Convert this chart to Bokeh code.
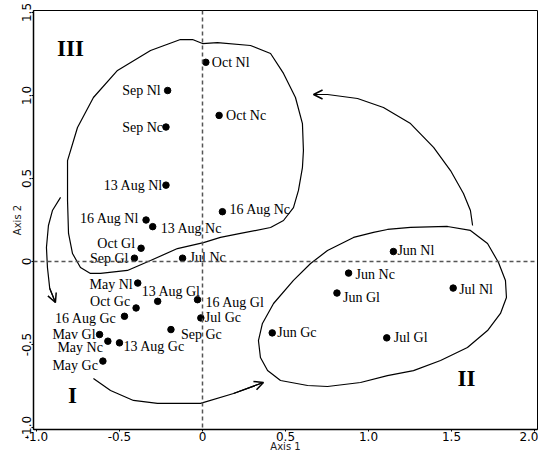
from bokeh.plotting import figure
from bokeh.models import Range1d, FixedTicker, Span, Arrow, OpenHead, ColumnDataSource
from bokeh.core.properties import value
from bokeh.embed import file_html
from bokeh.resources import INLINE

# ---- data ----
names = ["Oct Nl", "Sep Nl", "Sep Nc", "Oct Nc", "13 Aug Nl", "16 Aug Nl", "13 Aug Nc",
         "16 Aug Nc", "Oct Gl", "Sep Gl", "Jul Nc", "May Nl", "13 Aug Gl", "16 Aug Gl",
         "Oct Gc", "16 Aug Gc", "Jul Gc", "Sep Gc", "Mav Gl", "May Nc", "13 Aug Gc",
         "May Gc", "Jun Nl", "Jun Nc", "Jun Gl", "Jul Nl", "Jun Gc", "Jul Gl"]
axis1 = [0.02, -0.21, -0.22, 0.10, -0.22, -0.34, -0.30,
         0.12, -0.37, -0.41, -0.12, -0.39, -0.27, -0.03,
         -0.40, -0.47, -0.01, -0.19, -0.62, -0.57, -0.50,
         -0.60, 1.15, 0.88, 0.81, 1.51, 0.42, 1.11]
axis2 = [1.20, 1.03, 0.81, 0.88, 0.46, 0.25, 0.21,
         0.30, 0.08, 0.02, 0.02, -0.13, -0.24, -0.23,
         -0.28, -0.33, -0.34, -0.41, -0.44, -0.48, -0.49,
         -0.60, 0.06, -0.07, -0.19, -0.16, -0.43, -0.46]

# group outlines and arrows (axis units)
g3_x = [-0.813, -0.753, -0.657, -0.512, -0.313, -0.133, -0.060, 0.0, 0.090, 0.289, 0.410,
        0.488, 0.560, 0.602, 0.608, 0.602, 0.578, 0.548, 0.488, 0.410, 0.229, 0.108, 0.006,
        -0.151, -0.313, -0.452, -0.614, -0.675, -0.735, -0.783, -0.807, -0.813, -0.813]
g3_y = [0.608, 0.807, 0.988, 1.151, 1.271, 1.337, 1.337, 1.313, 1.319, 1.301, 1.253,
        1.133, 0.988, 0.831, 0.669, 0.566, 0.428, 0.325, 0.247, 0.205, 0.169, 0.145, 0.114,
        0.078, 0.006, -0.054, -0.072, -0.072, -0.036, 0.048, 0.169, 0.367, 0.608]
g2_x = [1.114, 1.253, 1.476, 1.614, 1.717, 1.783, 1.825, 1.831, 1.795, 1.717, 1.596, 1.434,
        1.271, 1.114, 0.952, 0.753, 0.633, 0.470, 0.392, 0.349, 0.337, 0.361, 0.428, 0.548,
        0.651, 0.753, 0.910, 1.030, 1.114]
g2_y = [0.193, 0.205, 0.211, 0.187, 0.108, -0.006, -0.114, -0.217, -0.313, -0.416, -0.518,
        -0.596, -0.657, -0.687, -0.729, -0.753, -0.747, -0.717, -0.657, -0.578, -0.476,
        -0.373, -0.253, -0.114, -0.012, 0.066, 0.145, 0.175, 0.193]
a1_x = [-0.855, -0.904, -0.928, -0.940, -0.934, -0.920, -0.886]
a1_y = [0.386, 0.307, 0.217, 0.084, -0.036, -0.163, -0.247]
a2_x = [-0.657, -0.554, -0.416, -0.271, -0.012, 0.187, 0.367]
a2_y = [-0.705, -0.777, -0.837, -0.855, -0.855, -0.795, -0.729]
a3_x = [1.627, 1.614, 1.572, 1.494, 1.392, 1.253, 1.090, 0.934, 0.753, 0.669]
a3_y = [0.217, 0.307, 0.410, 0.548, 0.687, 0.831, 0.928, 0.982, 1.006, 1.006]

group_names = ["III", "I", "II"]
group_x = [-0.795, -0.783, 1.590]
group_y = [1.283, -0.807, -0.705]

x_ticks = [-1.0, -0.5, 0.0, 0.5, 1.0, 1.5, 2.0]
x_tick_labels = ["-1.0", "-0.5", "0", "0.5", "1.0", "1.5", "2.0"]
y_ticks = [-1.0, -0.5, 0.0, 0.5, 1.0, 1.5]
y_tick_labels = ["-1.0", "-0.5", "0", "0.5", "1.0", "1.5"]

# ---- label placement (style) ----
lab_dx = [6, -7, -3, 7, -3, -7, 8, 7, -6, -6, 7, -5, -16, 8,
          -6, -8, 4, 10, -4, -5, 4, -5, 4, 7, 6, 6, 5, 7]
lab_dy = [0, 0, 0, 0, 0, -2, 2, -2, -5, 0, -1, 1, -10, 3,
          -6, 2, 0, 5, 0, 6, 4, 4, -1, 1, 4, 1, 0, 0]
lab_align = ["left", "right", "right", "left", "right", "right", "left", "left", "right",
             "right", "left", "right", "left", "left", "right", "right", "left", "left",
             "right", "right", "left", "right", "left", "left", "left", "left", "left", "left"]

p = figure(width=538, height=456, output_backend="svg", toolbar_location=None,
           x_range=Range1d(-1.018, 2.018), y_range=Range1d(-1.012, 1.512),
           min_border_left=33, min_border_right=1, min_border_top=10, min_border_bottom=27)
p.grid.visible = False
p.outline_line_color = "black"
p.outline_line_width = 1

for ax in (p.xaxis[0], p.yaxis[0]):
    ax.major_tick_in = 0
    ax.major_tick_out = 2
    ax.minor_tick_in = 0
    ax.minor_tick_out = 0
    ax.axis_line_color = "black"
    ax.axis_line_width = 1.5
    ax.major_label_text_font = "DejaVu Sans"
    ax.major_label_text_font_size = "12px"
    ax.major_label_text_color = "black"
    ax.major_label_standoff = 0
    ax.axis_label_text_font = "DejaVu Sans"
    ax.axis_label_text_font_size = "10px"
    ax.axis_label_text_font_style = "normal"
    ax.axis_label_text_color = "#222222"
    ax.axis_label_standoff = -3

p.xaxis.ticker = FixedTicker(ticks=x_ticks)
p.xaxis.major_label_overrides = dict(zip(x_ticks, x_tick_labels))
p.yaxis.ticker = FixedTicker(ticks=y_ticks)
p.yaxis.major_label_overrides = dict(zip(y_ticks, y_tick_labels))
p.yaxis.major_label_orientation = "vertical"
p.xaxis.axis_label = "Axis 1"
p.yaxis.axis_label = "Axis 2"

p.add_layout(Span(location=0, dimension="height", line_color="#555555", line_width=1.5,
                  line_dash="4 3"))
p.add_layout(Span(location=0, dimension="width", line_color="#555555", line_width=1.5,
                  line_dash="4 3"))

p.line(g3_x, g3_y, line_color="black", line_width=1.2)
p.line(g2_x, g2_y, line_color="black", line_width=1.2)
for ax_, ay_ in ((a1_x, a1_y), (a2_x, a2_y), (a3_x, a3_y)):
    p.line(ax_, ay_, line_color="black", line_width=1.2)
    p.add_layout(Arrow(end=OpenHead(size=9, line_width=1.5, line_color="black"),
                       x_start=ax_[-2], y_start=ay_[-2], x_end=ax_[-1], y_end=ay_[-1],
                       line_color="black", line_width=1.2))

src = ColumnDataSource(dict(x=axis1, y=axis2, name=names, dx=lab_dx, dy=lab_dy, al=lab_align))
p.scatter("x", "y", source=src, size=6.5, color="black")
p.text("x", "y", text="name", source=src, x_offset="dx", y_offset="dy", text_align="al",
       text_baseline="middle", text_font=value("Liberation Serif"), text_font_size="14px",
       text_color="black")

p.text(group_x, group_y, text=group_names, text_align="center", text_baseline="middle",
       text_font=value("Liberation Serif"), text_font_size="23px", text_font_style="bold",
       text_color="black")

open("out.html", "w").write(file_html(p, INLINE))
